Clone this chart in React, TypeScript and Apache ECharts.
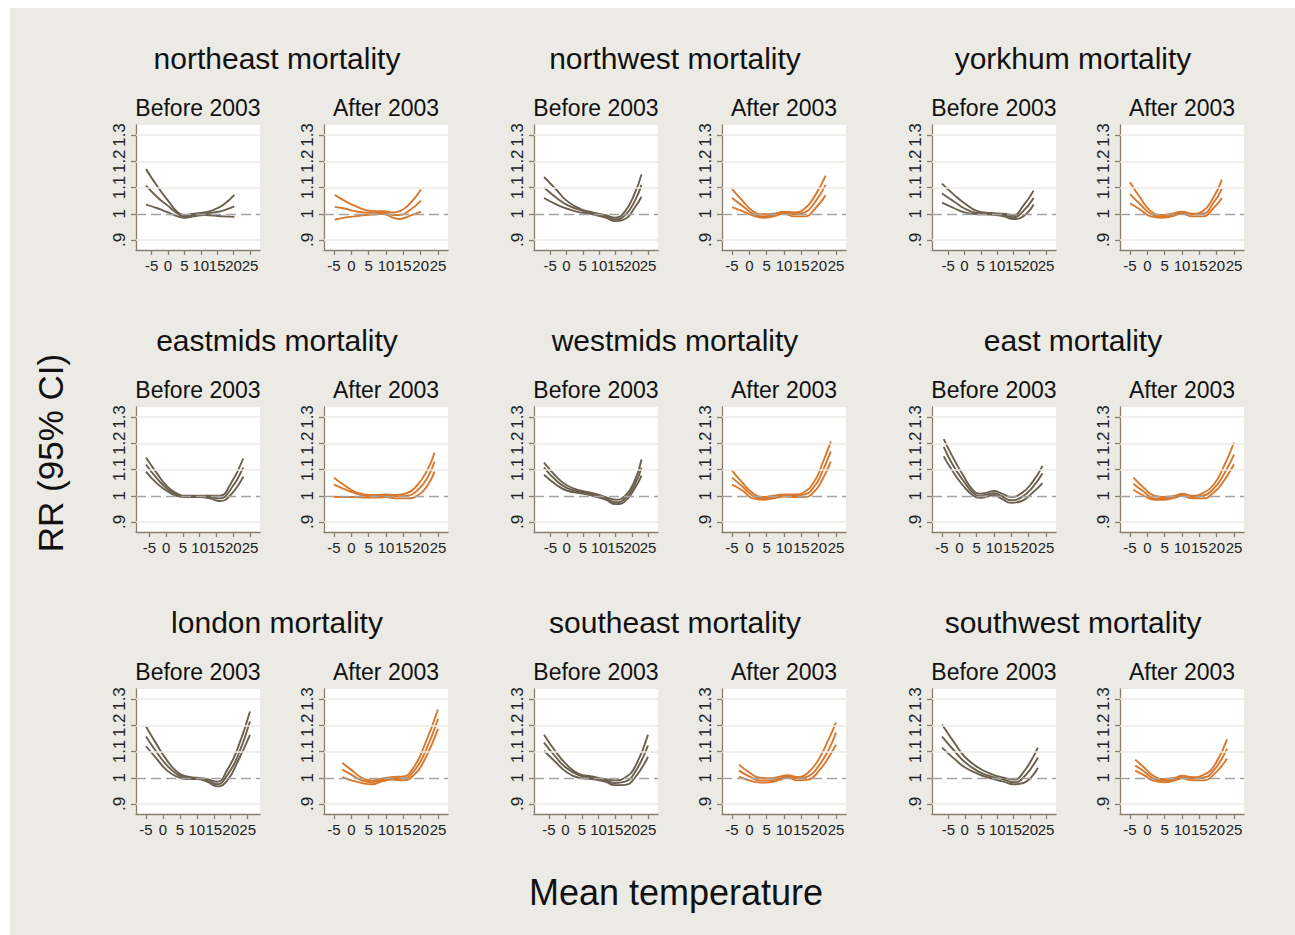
import React, { useEffect, useRef } from 'react';
import * as echarts from 'echarts';

const regions = ['northeast', 'northwest', 'yorkhum', 'eastmids', 'westmids', 'east', 'london', 'southeast', 'southwest'];
const periods = ['Before 2003', 'After 2003'];
const xTicks = [-5, 0, 5, 10, 15, 20, 25];
const xLabelsA = [-5, 5, 15, 25];
const xLabelsB = [0, 10, 20];
const yTicks = [0.9, 1, 1.1, 1.2, 1.3];

// northeast
const neB_t = [-6.7, -3, 0, 3, 5, 8, 11, 14, 17, 20.2];
const neB_hi = [1.17, 1.1, 1.05, 1.005, 0.995, 1.0, 1.005, 1.015, 1.035, 1.072];
const neB_mid = [1.107, 1.06, 1.03, 1.0, 0.99, 0.995, 1.0, 1.005, 1.013, 1.028];
const neB_lo = [1.035, 1.02, 1.005, 0.99, 0.985, 0.99, 0.995, 0.993, 0.99, 0.988];
const neA_t = [-4.8, -2, 1, 4, 7, 9, 12, 14, 17, 20.1];
const neA_hi = [1.072, 1.05, 1.03, 1.015, 1.01, 1.01, 1.005, 1.01, 1.04, 1.092];
const neA_mid = [1.026, 1.02, 1.01, 1.005, 1.005, 1.005, 0.995, 0.995, 1.015, 1.05];
const neA_lo = [0.977, 0.985, 0.99, 0.995, 0.998, 1.0, 0.985, 0.98, 0.993, 1.008];
// northwest
const nwB_t = [-6.9, -3, 0, 4, 8, 12, 15, 18, 21, 23];
const nwB_hi = [1.14, 1.09, 1.05, 1.02, 1.005, 0.995, 0.985, 1.01, 1.08, 1.15];
const nwB_mid = [1.1, 1.06, 1.035, 1.015, 1.0, 0.99, 0.978, 0.995, 1.05, 1.11];
const nwB_lo = [1.06, 1.035, 1.02, 1.005, 0.998, 0.985, 0.972, 0.98, 1.025, 1.065];
const nwA_t = [-5, -2, 1, 4, 7, 10, 13, 16, 19, 22];
const nwA_hi = [1.095, 1.05, 1.01, 0.998, 1.0, 1.008, 1.005, 1.02, 1.07, 1.145];
const nwA_mid = [1.06, 1.03, 1.0, 0.99, 0.995, 1.004, 0.998, 1.005, 1.045, 1.11];
const nwA_lo = [1.025, 1.01, 0.993, 0.985, 0.99, 1.0, 0.99, 0.99, 1.02, 1.07];
// yorkhum
const ykB_t = [-6.9, -3, 0, 4, 8, 12, 15, 18, 21.2];
const ykB_hi = [1.115, 1.07, 1.04, 1.01, 1.003, 1.0, 0.995, 1.03, 1.088];
const ykB_mid = [1.077, 1.045, 1.02, 1.003, 1.0, 0.995, 0.987, 1.01, 1.06];
const ykB_lo = [1.042, 1.02, 1.005, 0.998, 0.997, 0.99, 0.98, 0.99, 1.035];
const ykA_t = [-5, -2, 1, 4, 7, 10, 13, 16, 19, 21.5];
const ykA_hi = [1.12, 1.06, 1.01, 0.995, 1.0, 1.008, 1.0, 1.01, 1.06, 1.13];
const ykA_mid = [1.075, 1.035, 1.0, 0.99, 0.995, 1.005, 0.998, 1.0, 1.04, 1.095];
const ykA_lo = [1.04, 1.015, 0.99, 0.985, 0.99, 1.0, 0.99, 0.99, 1.02, 1.06];
// eastmids
const emB_t = [-6, -3, 0, 3, 6, 10, 13, 16, 19, 23];
const emB_hi = [1.146, 1.09, 1.04, 1.01, 1.0, 1.0, 1.0, 1.0, 1.04, 1.142];
const emB_mid = [1.119, 1.07, 1.03, 1.005, 0.997, 0.997, 0.995, 0.99, 1.02, 1.107];
const emB_lo = [1.092, 1.05, 1.02, 1.0, 0.995, 0.995, 0.99, 0.98, 1.0, 1.073];
const emA_t = [-5, -2, 1, 4, 7, 10, 13, 16, 19, 22, 24];
const emA_hi = [1.069, 1.04, 1.015, 1.005, 1.003, 1.005, 1.003, 1.01, 1.04, 1.1, 1.165];
const emA_mid = [1.042, 1.025, 1.01, 1.0, 0.998, 1.0, 0.998, 1.0, 1.02, 1.07, 1.13];
const emA_lo = [0.996, 0.995, 0.995, 0.993, 0.993, 0.995, 0.99, 0.99, 1.0, 1.04, 1.092];
// westmids
const wmB_t = [-7, -3, 0, 4, 8, 12, 15, 18, 21, 23];
const wmB_hi = [1.126, 1.07, 1.04, 1.02, 1.01, 0.995, 0.985, 1.0, 1.06, 1.138];
const wmB_mid = [1.107, 1.055, 1.03, 1.015, 1.005, 0.99, 0.975, 0.99, 1.045, 1.107];
const wmB_lo = [1.08, 1.04, 1.02, 1.01, 1.0, 0.985, 0.968, 0.98, 1.03, 1.077];
const wmA_t = [-5, -2, 1, 4, 7, 10, 13, 16, 19, 21, 23.5];
const wmA_hi = [1.096, 1.05, 1.01, 0.995, 1.0, 1.005, 1.005, 1.015, 1.06, 1.12, 1.207];
const wmA_mid = [1.069, 1.035, 1.0, 0.99, 0.995, 1.0, 1.0, 1.005, 1.04, 1.09, 1.169];
const wmA_lo = [1.042, 1.02, 0.99, 0.985, 0.99, 0.997, 0.995, 0.995, 1.02, 1.06, 1.13];
// east
const eaB_t = [-4.5, -2, 1, 4, 6, 8, 10, 12, 15, 18, 21, 24];
const eaB_hi = [1.216, 1.15, 1.08, 1.02, 1.008, 1.012, 1.018, 1.01, 0.995, 1.01, 1.05, 1.114];
const eaB_mid = [1.186, 1.12, 1.06, 1.01, 1.0, 1.005, 1.01, 1.0, 0.983, 0.995, 1.03, 1.086];
const eaB_lo = [1.15, 1.095, 1.04, 1.0, 0.992, 0.997, 1.003, 0.99, 0.973, 0.98, 1.01, 1.048];
const eaA_t = [-4, -1, 2, 5, 8, 10, 13, 16, 19, 22, 25];
const eaA_hi = [1.069, 1.03, 1.0, 0.995, 1.0, 1.008, 1.0, 1.01, 1.04, 1.11, 1.203];
const eaA_mid = [1.046, 1.015, 0.99, 0.99, 0.998, 1.004, 0.995, 1.0, 1.025, 1.08, 1.157];
const eaA_lo = [1.023, 1.0, 0.985, 0.985, 0.993, 1.0, 0.99, 0.99, 1.01, 1.055, 1.12];
// london
const lnB_t = [-5, -2, 1, 4, 7, 10, 13, 16, 19, 22, 25.7];
const lnB_hi = [1.195, 1.13, 1.07, 1.025, 1.005, 1.0, 0.995, 0.985, 1.03, 1.11, 1.252];
const lnB_mid = [1.157, 1.1, 1.05, 1.015, 1.0, 0.998, 0.99, 0.975, 1.01, 1.08, 1.214];
const lnB_lo = [1.12, 1.075, 1.03, 1.005, 0.995, 0.995, 0.985, 0.967, 0.99, 1.06, 1.163];
const lnA_t = [-2.6, 0, 3, 6, 9, 12, 15, 18, 21, 25];
const lnA_hi = [1.056, 1.03, 1.0, 0.99, 0.997, 1.003, 1.005, 1.04, 1.12, 1.26];
const lnA_mid = [1.031, 1.012, 0.99, 0.983, 0.992, 0.998, 0.997, 1.025, 1.09, 1.224];
const lnA_lo = [1.002, 0.99, 0.98, 0.975, 0.987, 0.993, 0.99, 1.01, 1.065, 1.186];
// southeast
const seB_t = [-6.5, -3, 0, 4, 8, 12, 15, 18, 21, 25];
const seB_hi = [1.164, 1.1, 1.055, 1.015, 1.005, 0.995, 0.99, 1.0, 1.04, 1.164];
const seB_mid = [1.134, 1.08, 1.04, 1.01, 1.0, 0.99, 0.98, 0.985, 1.02, 1.123];
const seB_lo = [1.103, 1.06, 1.025, 1.0, 0.995, 0.985, 0.972, 0.973, 1.0, 1.08];
const seA_t = [-3, 0, 3, 6, 9, 11, 14, 17, 20, 23, 25];
const seA_hi = [1.05, 1.02, 1.0, 0.998, 1.005, 1.01, 1.003, 1.02, 1.07, 1.15, 1.21];
const seA_mid = [1.027, 1.005, 0.99, 0.99, 0.998, 1.005, 0.997, 1.005, 1.045, 1.11, 1.172];
const seA_lo = [1.004, 0.99, 0.982, 0.983, 0.993, 1.0, 0.99, 0.993, 1.025, 1.08, 1.126];
// southwest
const swB_t = [-7, -3, 0, 4, 8, 12, 15, 18, 22.5];
const swB_hi = [1.203, 1.13, 1.08, 1.04, 1.015, 1.0, 0.993, 1.02, 1.115];
const swB_mid = [1.157, 1.1, 1.06, 1.025, 1.005, 0.993, 0.983, 1.0, 1.077];
const swB_lo = [1.115, 1.07, 1.04, 1.015, 0.998, 0.985, 0.975, 0.98, 1.038];
const swA_t = [-3.5, -1, 2, 5, 8, 10, 13, 16, 19, 23];
const swA_hi = [1.069, 1.04, 1.005, 0.995, 1.0, 1.008, 1.002, 1.01, 1.04, 1.146];
const swA_mid = [1.046, 1.025, 0.995, 0.988, 0.995, 1.003, 0.997, 1.0, 1.025, 1.111];
const swA_lo = [1.027, 1.01, 0.988, 0.983, 0.99, 0.998, 0.99, 0.99, 1.01, 1.073];

const panels = [
  [neB_t, neB_hi, neB_mid, neB_lo], [neA_t, neA_hi, neA_mid, neA_lo],
  [nwB_t, nwB_hi, nwB_mid, nwB_lo], [nwA_t, nwA_hi, nwA_mid, nwA_lo],
  [ykB_t, ykB_hi, ykB_mid, ykB_lo], [ykA_t, ykA_hi, ykA_mid, ykA_lo],
  [emB_t, emB_hi, emB_mid, emB_lo], [emA_t, emA_hi, emA_mid, emA_lo],
  [wmB_t, wmB_hi, wmB_mid, wmB_lo], [wmA_t, wmA_hi, wmA_mid, wmA_lo],
  [eaB_t, eaB_hi, eaB_mid, eaB_lo], [eaA_t, eaA_hi, eaA_mid, eaA_lo],
  [lnB_t, lnB_hi, lnB_mid, lnB_lo], [lnA_t, lnA_hi, lnA_mid, lnA_lo],
  [seB_t, seB_hi, seB_mid, seB_lo], [seA_t, seA_hi, seA_mid, seA_lo],
  [swB_t, swB_hi, swB_mid, swB_lo], [swA_t, swA_hi, swA_mid, swA_lo],
];

const COLORS = ['#6b5f4d', '#d9782d'];
const FONT = '"Liberation Sans", Arial, Helvetica, sans-serif';
const AXIS = '#8a7f6e';

export default function App() {
  const ref = useRef<HTMLDivElement>(null);
  useEffect(() => {
    document.body.style.margin = '0';
    const chart = echarts.init(ref.current!, null, { renderer: 'svg' });
    const W = 124, H = 125, PAD = 10;
    const yScale = (H - 2 * PAD) / 0.4;
    const yMin = 0.9 - PAD / yScale, yMax = 1.3 + PAD / yScale;
    const grids: any[] = [], xAxes: any[] = [], yAxes: any[] = [], series: any[] = [];
    const graphics: any[] = [
      { type: 'rect', shape: { x: 10, y: 8, width: 1285, height: 927 }, style: { fill: '#ebeae4' }, z: -10, silent: true },
    ];
    const xLabelStyle = {
      fontSize: 15, color: '#222', fontFamily: FONT, margin: 8,
      hideOverlap: false, showMinLabel: true, showMaxLabel: true,
    };
    panels.forEach((pn, i) => {
      const [t, hi, mid, lo] = pn;
      const k = Math.floor(i / 2), p = i % 2, r = Math.floor(k / 3), g = k % 3;
      const left = 136 + 398 * g + 188 * p, top = 125 + 282 * r;
      const lo0 = Math.min(t[0], -5), hi0 = Math.max(t[t.length - 1], 25);
      const xs = (W - 2 * PAD) / (hi0 - lo0);
      const xmin = lo0 - PAD / xs, xmax = hi0 + PAD / xs;
      grids.push({ left, top, width: W, height: H, show: true, backgroundColor: '#ffffff', borderWidth: 0 });
      xAxes.push({
        type: 'value', gridIndex: i, position: 'bottom', min: xmin, max: xmax,
        axisLine: { show: true, onZero: false, lineStyle: { color: AXIS, width: 1.3 } },
        axisTick: { show: true, customValues: xTicks, length: 5, lineStyle: { color: AXIS, width: 1.3 } },
        axisLabel: { ...xLabelStyle, customValues: xLabelsA },
        splitLine: { show: false },
      });
      xAxes.push({
        type: 'value', gridIndex: i, position: 'bottom', offset: 0, min: xmin, max: xmax,
        axisLine: { show: false, onZero: false },
        axisTick: { show: false },
        axisLabel: { ...xLabelStyle, customValues: xLabelsB },
        splitLine: { show: false },
      });
      yAxes.push({
        type: 'value', gridIndex: i, min: yMin, max: yMax,
        axisLine: { show: true, onZero: false, lineStyle: { color: AXIS, width: 1.3 } },
        axisTick: { show: true, customValues: yTicks, length: 5, lineStyle: { color: AXIS, width: 1.3 } },
        axisLabel: {
          customValues: yTicks, rotate: 90, fontSize: 17, color: '#222', fontFamily: FONT, margin: 8,
          hideOverlap: false, showMinLabel: true, showMaxLabel: true,
          formatter: (v: number) => (Math.abs(v - 1) < 1e-9 ? '1' : v.toFixed(1).replace(/^0/, '')),
        },
        splitLine: { show: false },
      });
      series.push({
        type: 'line', xAxisIndex: 2 * i, yAxisIndex: i, data: [[t[0], mid[0]]], symbol: 'none', lineStyle: { width: 0, opacity: 0 },
        silent: true, z: 1,
        markLine: {
          silent: true, symbol: 'none', label: { show: false }, animation: false,
          data: [
            ...yTicks.filter((v) => v !== 1).map((v) => ({ yAxis: v, lineStyle: { color: '#ebeae4', width: 1.5, type: 'solid' } })),
            { yAxis: 1, lineStyle: { color: '#a3a3a3', width: 1.3, type: [10, 5] } },
          ],
        },
      });
      [hi, mid, lo].forEach((arr) => {
        series.push({
          type: 'line', xAxisIndex: 2 * i, yAxisIndex: i, data: t.map((x, j) => [x, arr[j]]),
          symbol: 'none', smooth: 0.5, lineStyle: { color: COLORS[p], width: 1.9 }, z: 3, silent: true,
        });
      });
      graphics.push({
        type: 'text', x: left + W / 2, y: 108 + 282 * r,
        style: { text: periods[p], font: `23px ${FONT}`, fill: '#111', textAlign: 'center', textVerticalAlign: 'middle' },
      });
      if (p === 0) {
        graphics.push({
          type: 'text', x: 277 + 398 * g, y: 58 + 282 * r,
          style: { text: `${regions[k]} mortality`, font: `30px ${FONT}`, fill: '#111', textAlign: 'center', textVerticalAlign: 'middle' },
        });
      }
    });
    graphics.push({
      type: 'text', x: 50, y: 453, rotation: Math.PI / 2,
      style: { text: 'RR (95% CI)', font: `35px ${FONT}`, fill: '#111', textAlign: 'center', textVerticalAlign: 'middle' },
    });
    graphics.push({
      type: 'text', x: 676, y: 892,
      style: { text: 'Mean temperature', font: `36px ${FONT}`, fill: '#111', textAlign: 'center', textVerticalAlign: 'middle' },
    });
    chart.setOption({
      animation: false,
      backgroundColor: '#ffffff',
      grid: grids,
      xAxis: xAxes,
      yAxis: yAxes,
      series,
      graphic: graphics,
    });
    return () => chart.dispose();
  }, []);
  return <div ref={ref} style={{ width: 1295, height: 935 }} />;
}
